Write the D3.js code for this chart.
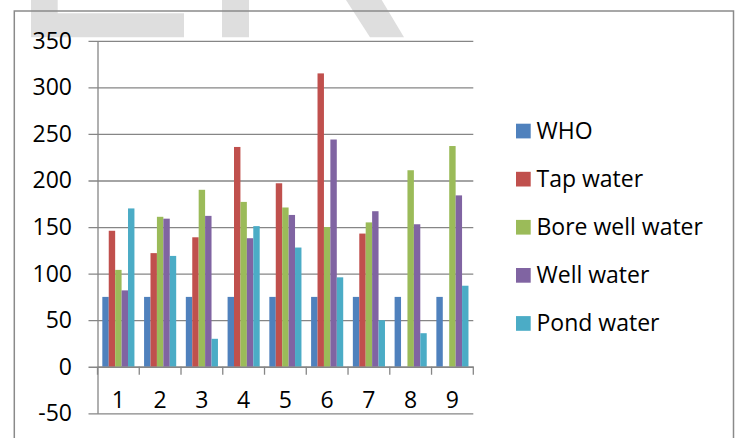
<!DOCTYPE html>
<html>
<head>
<meta charset="utf-8">
<script src="https://cdn.jsdelivr.net/npm/d3@7"></script>
<style>
  html, body { margin: 0; padding: 0; background: #fff; }
  svg { display: block; }
  text { font-family: "Open Sans", "Noto Sans", sans-serif; fill: #000; }
</style>
</head>
<body>
<svg id="chart" width="739" height="438"></svg>
<script>
// Sample groups along the x axis
const categories = ["1", "2", "3", "4", "5", "6", "7", "8", "9"];

// One array per water source
const seriesNames = ["WHO", "Tap water", "Bore well water", "Well water", "Pond water"];
const who       = [75, 75, 75, 75, 75, 75, 75, 75, 75];
const tapWater  = [146, 122, 139, 236, 197, 315, 143, 0, 0];
const boreWell  = [104, 161, 190, 177, 171, 150, 155, 211, 237];
const wellWater = [82, 159, 162, 138, 163, 244, 167, 153, 184];
const pondWater = [170, 119, 30, 151, 128, 96, 50, 36, 87];
const seriesValues = [who, tapWater, boreWell, wellWater, pondWater];

const colors = ["#4F81BD", "#C0504D", "#9BBB59", "#8064A2", "#4BACC6"];
const yTicks = [-50, 0, 50, 100, 150, 200, 250, 300, 350];

const svg = d3.select("#chart");

// light grey lettering behind the chart
const mark = svg.append("g").attr("fill", "#dedede");
mark.append("polygon").attr("points", "31,0 57.7,0 57.7,13.3 184,13.3 184,37.3 31,37.3");
mark.append("polygon").attr("points", "222,0 249,0 249,37.3 222,37.3");
mark.append("polygon").attr("points", "346,0 381.7,0 404,37.3 370,37.3");

// chart frame
svg.append("rect")
  .attr("x", 14.3).attr("y", 11)
  .attr("width", 719.2).attr("height", 440)
  .attr("fill", "none").attr("stroke", "#8a8a8a").attr("stroke-width", 1.5);

const plotLeft = 97.5, plotRight = 473.3;
const y = d3.scaleLinear().domain([-50, 350]).range([413.3, 40.8]);
const x = d3.scaleBand().domain(categories).range([plotLeft, plotRight]).padding(0);

const gridColor = "#868686";

// horizontal gridlines with outside ticks on the value axis
const yAxis = d3.axisLeft(y)
  .tickValues(yTicks)
  .tickSize(-(plotRight - plotLeft))
  .tickSizeOuter(0)
  .tickFormat("");
const yg = svg.append("g").attr("transform", `translate(${plotLeft},0)`).call(yAxis);
yg.select(".domain").attr("stroke", gridColor).attr("stroke-width", 1.3);
yg.selectAll(".tick line")
  .attr("x1", -9)
  .attr("stroke", gridColor).attr("stroke-width", 1.3);

// value labels
svg.append("g").selectAll("text")
  .data(yTicks)
  .join("text")
  .attr("x", 72)
  .attr("y", d => y(d) + 8)
  .attr("text-anchor", "end")
  .attr("font-size", 23)
  .text(d => d);

// bars
const bw = x.bandwidth();
const barW = bw / 6.5;
seriesValues.forEach((vals, si) => {
  svg.append("g")
    .selectAll("rect")
    .data(vals.map((v, i) => ({ c: categories[i], v })))
    .join("rect")
    .attr("x", d => x(d.c) + 0.75 * barW + si * barW)
    .attr("y", d => y(Math.max(0, d.v)))
    .attr("width", barW)
    .attr("height", d => Math.abs(y(d.v) - y(0)))
    .attr("fill", colors[si]);
});

// category axis at zero
const xAxis = d3.axisBottom(x).tickSize(0).tickSizeOuter(0).tickFormat("");
const xg = svg.append("g").attr("transform", `translate(0,${y(0)})`).call(xAxis);
xg.select(".domain").attr("stroke", gridColor).attr("stroke-width", 1.3);
xg.selectAll(".tick").remove();
const boundaries = categories.map(c => x(c)).concat([plotRight]);
xg.selectAll("line.sep")
  .data(boundaries)
  .join("line")
  .attr("class", "sep")
  .attr("x1", d => d).attr("x2", d => d)
  .attr("y1", 0).attr("y2", 8)
  .attr("stroke", gridColor).attr("stroke-width", 1.3);

// category labels
svg.append("g").selectAll("text")
  .data(categories)
  .join("text")
  .attr("x", d => x(d) + bw / 2)
  .attr("y", 408.3)
  .attr("text-anchor", "middle")
  .attr("font-size", 23)
  .text(d => d);

// legend
const legend = svg.append("g");
seriesNames.forEach((name, i) => {
  const cy = 131 + i * 48.1;
  legend.append("rect")
    .attr("x", 516).attr("y", cy - 7.3)
    .attr("width", 14.7).attr("height", 14.7)
    .attr("fill", colors[i]);
  legend.append("text")
    .attr("x", 536.5).attr("y", cy + 7.6)
    .attr("font-size", 23)
    .text(name);
});
</script>
</body>
</html>
